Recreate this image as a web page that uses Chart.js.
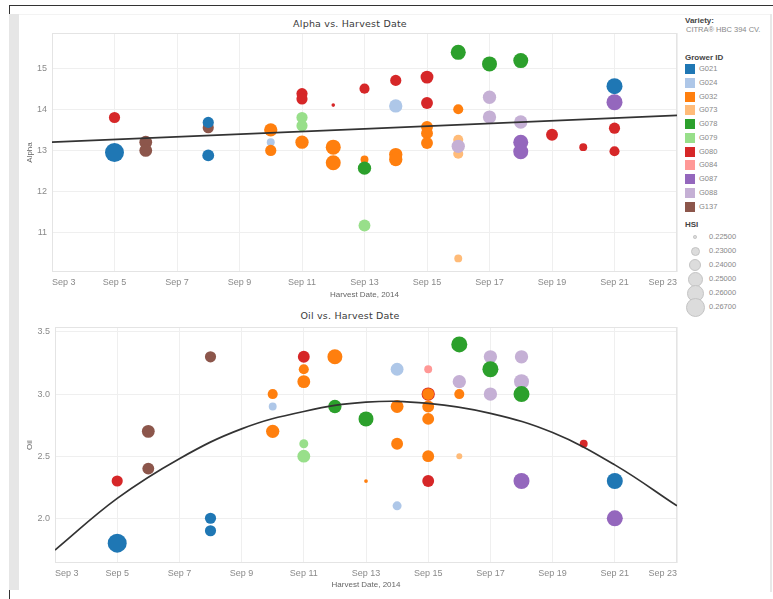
<!DOCTYPE html>
<html>
<head>
<meta charset="utf-8">
<script src="https://cdn.jsdelivr.net/npm/chart.js@4.4.1/dist/chart.umd.min.js"></script>
<style>
  html, body { margin: 0; padding: 0; background: #fff; }
  body { width: 773px; height: 599px; position: relative; overflow: hidden;
         font-family: "Liberation Sans", Arial, sans-serif; }
  .abs { position: absolute; }
  .rule { position: absolute; }
  .title { position: absolute; width: 240px; text-align: center; font-family: "DejaVu Sans", sans-serif;
           font-size: 9.5px; color: #3a3a3a; letter-spacing: 0.2px; white-space: nowrap; }
  .lg { position: absolute; font-size: 8px; white-space: nowrap; line-height: 10px; }
  .lg-head { color: #444; font-weight: bold; }
  .lg-item { color: #888; font-size: 7.5px; }
  .sw { position: absolute; width: 10px; height: 10px; }
  .dot { position: absolute; border-radius: 50%; background: #dcdcdc; border: 1px solid #c4c4c4; box-sizing: border-box; }
</style>
</head>
<body>
<!-- dashboard frame -->
<div class="rule" style="left:9px;top:5px;width:764px;height:1px;background:#333"></div>
<div class="rule" style="left:9px;top:5px;width:1px;height:10px;background:#333"></div>
<div class="rule" style="left:9px;top:14px;width:10px;height:576px;background:#e6e6e6"></div>
<div class="rule" style="left:9px;top:590px;width:1px;height:9px;background:#333"></div>
<div class="rule" style="left:770px;top:14px;width:2px;height:578px;background:#e8e8e8"></div>
<div class="rule" style="left:19px;top:14px;width:751px;height:1px;background:#f3f3f3"></div>

<div class="title" style="left:230px;top:18px">Alpha vs. Harvest Date</div>
<div class="title" style="left:230px;top:310px">Oil vs. Harvest Date</div>

<canvas id="alphaChart" class="abs" width="680" height="301" style="left:0;top:0"></canvas>
<canvas id="oilChart" class="abs" width="680" height="292" style="left:0;top:300px"></canvas>

<div id="legend"></div>

<script>
// Grower palette and size legend
const growerIds = ['G021', 'G024', 'G032', 'G073', 'G078', 'G079', 'G080', 'G084', 'G087', 'G088', 'G137'];
const growerColors = ['#1f77b4', '#aec7e8', '#ff7f0e', '#ffbb78', '#2ca02c', '#98df8a', '#d62728', '#ff9896', '#9467bd', '#c5b0d5', '#8c564b'];
const hsiLegend = [0.225, 0.23, 0.24, 0.25, 0.26, 0.267];

// Axis ticks
const dayTicks = [3, 5, 7, 9, 11, 13, 15, 17, 19, 21, 23];
const alphaTicks = [11, 12, 13, 14, 15];
const oilTicks = [2.0, 2.5, 3.0, 3.5];

// Alpha acid samples (day of September 2014)
const alphaDay = [5, 5, 6, 6, 8, 8, 8, 10, 10, 10,
                  11, 11, 11, 11, 11, 12, 12, 12, 13, 13,
                  13, 13, 14, 14, 14, 14, 15, 15, 15, 15,
                  15, 16, 16, 16, 16, 16, 16, 17, 17, 17,
                  18, 18, 18, 18, 19, 20, 21, 21, 21, 21];
const alphaValue = [13.8, 12.95, 13.2, 13.0, 13.55, 13.68, 12.88, 13.5, 13.2, 13.0,
                    14.38, 14.25, 13.8, 13.6, 13.2, 14.1, 13.08, 12.7, 14.5, 12.78,
                    12.57, 11.18, 14.7, 14.08, 12.9, 12.78, 14.78, 14.15, 13.57, 13.42,
                    13.18, 15.38, 14.0, 13.26, 12.92, 10.38, 13.1, 15.1, 14.29, 13.81,
                    15.18, 13.69, 13.2, 12.97, 13.38, 13.08, 14.56, 14.17, 13.54, 12.98];
const alphaGrower = ['G080', 'G021', 'G137', 'G137', 'G137', 'G021', 'G021', 'G032', 'G024', 'G032',
                     'G080', 'G080', 'G079', 'G079', 'G032', 'G080', 'G032', 'G032', 'G080', 'G032',
                     'G078', 'G079', 'G080', 'G024', 'G032', 'G032', 'G080', 'G080', 'G032', 'G032',
                     'G032', 'G078', 'G032', 'G073', 'G073', 'G073', 'G088', 'G078', 'G088', 'G088',
                     'G078', 'G088', 'G087', 'G087', 'G080', 'G080', 'G021', 'G087', 'G080', 'G080'];
const alphaHsi = [0.236, 0.267, 0.241, 0.241, 0.236, 0.236, 0.238, 0.243, 0.229, 0.236,
                  0.236, 0.236, 0.236, 0.236, 0.243, 0.225, 0.25, 0.25, 0.233, 0.229,
                  0.243, 0.238, 0.236, 0.243, 0.243, 0.243, 0.241, 0.238, 0.238, 0.238,
                  0.238, 0.25, 0.233, 0.233, 0.233, 0.229, 0.243, 0.25, 0.243, 0.243,
                  0.25, 0.243, 0.25, 0.25, 0.238, 0.229, 0.255, 0.255, 0.236, 0.233];
const alphaTrendDay = [3, 23];
const alphaTrend = [13.2, 13.85];

// Oil samples
const oilDay = [5, 5, 6, 6, 8, 8, 8, 10, 10, 10,
                11, 11, 11, 11, 11, 12, 12, 13, 13, 14,
                14, 14, 14, 15, 15, 15, 15, 15, 15, 15,
                16, 16, 16, 16, 17, 17, 17, 18, 18, 18,
                18, 20, 21, 21];
const oilValue = [2.3, 1.8, 2.7, 2.4, 3.3, 2.0, 1.9, 3.0, 2.9, 2.7,
                  3.3, 3.2, 3.1, 2.6, 2.5, 3.3, 2.9, 2.8, 2.3, 3.2,
                  2.9, 2.6, 2.1, 3.2, 3.0, 3.0, 2.9, 2.8, 2.5, 2.3,
                  3.4, 3.1, 3.0, 2.5, 3.3, 3.2, 3.0, 3.3, 3.1, 3.0,
                  2.3, 2.6, 2.3, 2.0];
const oilGrower = ['G080', 'G021', 'G137', 'G137', 'G137', 'G021', 'G021', 'G032', 'G024', 'G032',
                   'G080', 'G032', 'G032', 'G079', 'G079', 'G032', 'G078', 'G078', 'G032', 'G024',
                   'G032', 'G032', 'G024', 'G084', 'G080', 'G032', 'G032', 'G032', 'G032', 'G080',
                   'G078', 'G088', 'G032', 'G073', 'G088', 'G078', 'G088', 'G088', 'G088', 'G078',
                   'G087', 'G080', 'G021', 'G087'];
const oilHsi = [0.236, 0.267, 0.241, 0.238, 0.236, 0.236, 0.236, 0.233, 0.229, 0.243,
                0.238, 0.233, 0.241, 0.23, 0.241, 0.25, 0.243, 0.25, 0.2251, 0.241,
                0.241, 0.238, 0.23, 0.229, 0.243, 0.238, 0.238, 0.238, 0.238, 0.238,
                0.255, 0.243, 0.233, 0.2272, 0.243, 0.255, 0.243, 0.243, 0.25, 0.255,
                0.255, 0.229, 0.255, 0.255];
const oilTrendDay = [3, 5, 7, 9, 11, 13, 15, 17, 19, 21, 23];
const oilTrend = [1.744, 2.16, 2.48, 2.72, 2.86, 2.935, 2.925, 2.845, 2.69, 2.43, 2.10];

// Marker radius for an HSI value (piecewise between legend stops)
const legendRadii = [1.8, 4.5, 6.3, 7.5, 8.5, 9.5];
function radiusFor(h) {
  if (h <= hsiLegend[0]) return legendRadii[0];
  for (let i = 1; i < hsiLegend.length; i++) {
    if (h <= hsiLegend[i]) {
      const t = (h - hsiLegend[i - 1]) / (hsiLegend[i] - hsiLegend[i - 1]);
      return legendRadii[i - 1] + t * (legendRadii[i] - legendRadii[i - 1]);
    }
  }
  return legendRadii[legendRadii.length - 1];
}
const colorFor = g => growerColors[growerIds.indexOf(g)];

Chart.defaults.font.family = '"Liberation Sans", Arial, sans-serif';
Chart.defaults.color = '#888';

const plotFrame = {
  id: 'plotFrame',
  beforeDatasetsDraw(chart) {
    const { ctx, chartArea: a } = chart;
    ctx.save();
    ctx.strokeStyle = '#e4e4e4';
    ctx.lineWidth = 1;
    ctx.strokeRect(Math.round(a.left) + 0.5, Math.round(a.top) + 0.5,
                   Math.round(a.right - a.left) - 1, Math.round(a.bottom - a.top) - 1);
    ctx.restore();
  }
};

function buildChart(id, cfg) {
  const points = cfg.day.map((d, i) => ({ x: d, y: cfg.value[i] }));
  const trend = cfg.trendDay.map((d, i) => ({ x: d, y: cfg.trend[i] }));
  return new Chart(document.getElementById(id), {
    type: 'scatter',
    data: {
      datasets: [
        {
          type: 'line', data: trend, order: 0, showLine: true,
          borderColor: '#333', borderWidth: 1.7, pointRadius: 0, tension: 0.4, fill: false
        },
        {
          data: points, order: 1,
          pointBackgroundColor: cfg.grower.map(colorFor),
          pointBorderWidth: 0,
          pointRadius: cfg.hsi.map(radiusFor),
          pointHoverRadius: cfg.hsi.map(radiusFor)
        }
      ]
    },
    options: {
      responsive: false,
      animation: false,
      devicePixelRatio: 1,
      layout: { autoPadding: false, padding: { left: cfg.padLeft, top: cfg.padTop, right: 3, bottom: 0 } },
      plugins: { legend: { display: false }, tooltip: { enabled: false } },
      scales: {
        x: {
          type: 'linear', min: 3, max: 23,
          afterBuildTicks: s => { s.ticks = dayTicks.map(v => ({ value: v })); },
          afterFit: s => { s.height = cfg.xAxisHeight; s.paddingLeft = 0; s.paddingRight = 0; },
          grid: { color: '#efefef', drawTicks: false },
          border: { display: false },
          ticks: { padding: 5, align: 'inner', maxRotation: 0, font: { size: 9 }, color: '#8a8a8a',
                   callback: v => 'Sep ' + v },
          title: { display: true, text: 'Harvest Date, 2014', color: '#666', font: { size: 8 },
                   padding: { top: 0, bottom: cfg.xTitlePad } }
        },
        y: {
          type: 'linear', min: cfg.yMin, max: cfg.yMax,
          afterBuildTicks: s => { s.ticks = cfg.yTicks.map(v => ({ value: v })); },
          afterFit: s => { s.width = cfg.yAxisWidth; },
          grid: { color: '#efefef', drawTicks: false },
          border: { display: false },
          ticks: { padding: 5, font: { size: 9 }, color: '#8a8a8a', callback: cfg.fmt },
          title: { display: true, text: cfg.yTitle, color: '#666', font: { size: 8 },
                   padding: { top: 6, bottom: 0 } }
        }
      }
    },
    plugins: [plotFrame]
  });
}

buildChart('alphaChart', {
  day: alphaDay, value: alphaValue, grower: alphaGrower, hsi: alphaHsi,
  trendDay: alphaTrendDay, trend: alphaTrend,
  yMin: 10.05, yMax: 15.85, yTicks: alphaTicks, fmt: v => String(v),
  yTitle: 'Alpha', padLeft: 19, padTop: 33, xAxisHeight: 29, yAxisWidth: 33, xTitlePad: 1
});

buildChart('oilChart', {
  day: oilDay, value: oilValue, grower: oilGrower, hsi: oilHsi,
  trendDay: oilTrendDay, trend: oilTrend,
  yMin: 1.64, yMax: 3.54, yTicks: oilTicks, fmt: v => v.toFixed(1),
  yTitle: 'Oil', padLeft: 19, padTop: 27, xAxisHeight: 29, yAxisWidth: 36, xTitlePad: 2
});

// Side legend
const lg = document.getElementById('legend');
function addText(text, left, top, cls) {
  const d = document.createElement('div');
  d.className = 'lg ' + cls;
  d.style.left = left + 'px';
  d.style.top = top + 'px';
  d.textContent = text;
  lg.appendChild(d);
}
addText('Variety:', 685, 16, 'lg-head');
addText('CITRA\u00AE HBC 394 CV.', 686, 25, 'lg-item');
addText('Grower ID', 685, 53, 'lg-head');
growerIds.forEach((g, i) => {
  const cy = 69 + i * 13.75;
  const sw = document.createElement('div');
  sw.className = 'sw';
  sw.style.left = '685px';
  sw.style.top = (cy - 5) + 'px';
  sw.style.background = growerColors[i];
  lg.appendChild(sw);
  addText(g, 699, cy - 5, 'lg-item');
});
addText('HSI', 685, 220, 'lg-head');
hsiLegend.forEach((h, i) => {
  const cy = 237 + i * 14;
  const r = radiusFor(h);
  const d = document.createElement('div');
  d.className = 'dot';
  d.style.left = (695 - r) + 'px';
  d.style.top = (cy - r) + 'px';
  d.style.width = (2 * r) + 'px';
  d.style.height = (2 * r) + 'px';
  lg.appendChild(d);
  addText(h.toFixed(5), 709, cy - 5, 'lg-item');
});
</script>
</body>
</html>
